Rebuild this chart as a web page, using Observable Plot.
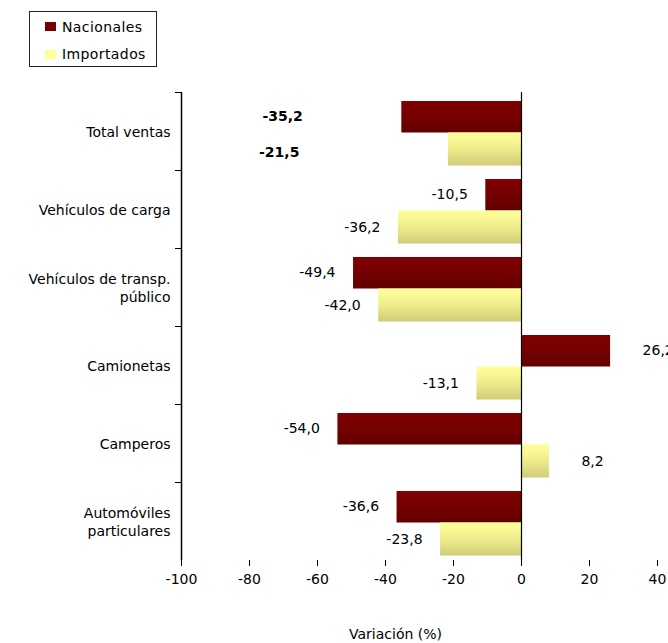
<!DOCTYPE html>
<html>
<head>
<meta charset="utf-8">
<script src="https://cdn.jsdelivr.net/npm/d3@7"></script>
<script src="https://cdn.jsdelivr.net/npm/@observablehq/plot@0.6"></script>
<style>
  html, body { margin: 0; padding: 0; background: #fff; overflow: hidden; }
  body { width: 668px; height: 643px; font-family: "DejaVu Sans", "Liberation Sans", Arial, sans-serif; }
  #legend { position: relative; height: 80px; }
  #legend .box { position: absolute; left: 29px; top: 11px; width: 126px; height: 54px; border: 1px solid #222; }
  #legend .item { position: absolute; left: 15px; font-size: 14px; color: #000; line-height: 16px; letter-spacing: 0.4px; }
  #legend .sw { position: absolute; left: 0; width: 11px; height: 9px; }
  #legend .lab { position: absolute; left: 17px; top: -2px; white-space: nowrap; }
  #chart svg { display: block; }
</style>
</head>
<body>
<div id="legend">
  <div class="box">
    <div class="item" style="top:9px"><div class="sw" style="top:1px;background:#7a0000"></div><span class="lab">Nacionales</span></div>
    <div class="item" style="top:36px"><div class="sw" style="top:2px;background:#ffff99"></div><span class="lab">Importados</span></div>
  </div>
</div>
<div id="chart"></div>
<script>
const categories = ["Total ventas", "Vehículos de carga", "Vehículos de transp.\npúblico", "Camionetas", "Camperos", "Automóviles\nparticulares"];
const nacionales = [-35.2, -10.5, -49.4, 26.2, -54.0, -36.6];
const importados = [-21.5, -36.2, -42.0, -13.1, 8.2, -23.8];
const xTicks = [-100, -80, -60, -40, -20, 0, 20, 40];
const xLabel = "Variación (%)";
const totalCategory = "Total ventas";

const nac = categories.map((c, i) => ({cat: c, value: nacionales[i]}));
const imp = categories.map((c, i) => ({cat: c, value: importados[i]}));
const fmt = v => v.toFixed(1).replace(".", ",");

const font = '"DejaVu Sans", "Liberation Sans", Arial, sans-serif';
const FS = 14;
const isTotal = d => d.cat === totalCategory;

const labelMarks = (data, dy) => [
  Plot.text(data, {filter: d => !isTotal(d) && d.value < 0, x: "value", y: "cat", text: d => fmt(d.value), textAnchor: "end", dx: -18, dy, fontSize: FS, fill: "#000"}),
  Plot.text(data, {filter: d => !isTotal(d) && d.value >= 0, x: "value", y: "cat", text: d => fmt(d.value), textAnchor: "start", dx: 32, dy, fontSize: FS, fill: "#000"})
];

const plot = Plot.plot({
  width: 668,
  height: 563,
  marginTop: 12,
  marginBottom: 83,
  marginLeft: 181,
  marginRight: 11,
  style: {fontFamily: font, fontSize: FS + "px", color: "#000", background: "#fff"},
  x: {domain: [-100, 40], ticks: xTicks, label: null},
  y: {domain: categories, padding: 0, label: null},
  marks: [
    Plot.barX(nac, {x: "value", y: "cat", fill: "url(#gradNac)", insetTop: 9, insetBottom: 37.5}),
    Plot.barX(imp, {x: "value", y: "cat", fill: "url(#gradImp)", insetTop: 40.5, insetBottom: 4.5}),
    Plot.ruleX([0], {stroke: "#000", strokeWidth: 1.2}),
    Plot.ruleX([-100], {stroke: "#000", strokeWidth: 1.5}),
    Plot.axisX({ticks: xTicks, tickSize: 6, tickPadding: 8, line: true, tickFormat: d => String(d), fontSize: FS, label: null, stroke: "#000"}),
    Plot.axisY({tickSize: 6, tickFormat: () => "", dy: -39, label: null, stroke: "#000"}),
    Plot.text(categories, {y: d => d, frameAnchor: "left", dx: -11, textAnchor: "end", lineAnchor: "middle", lineHeight: 1.3, fontSize: FS, fill: "#000", ariaLabel: "category labels"}),
    ...labelMarks(nac, -15),
    ...labelMarks(imp, 18),
    Plot.text(nac, {filter: isTotal, x: "value", y: "cat", text: d => fmt(d.value), textAnchor: "end", dx: -99, dy: -15, fontSize: FS, fontWeight: "bold", fill: "#000"}),
    Plot.text(imp, {filter: isTotal, x: "value", y: "cat", text: d => fmt(d.value), textAnchor: "end", dx: -149, dy: 21, fontSize: FS, fontWeight: "bold", fill: "#000"}),
    Plot.text([xLabel], {frameAnchor: "bottom", dx: -24, dy: 78, fontSize: FS, fill: "#000"})
  ]
});

// gradient definitions for the bars
const ns = "http://www.w3.org/2000/svg";
const defs = document.createElementNS(ns, "defs");
function grad(id, stops) {
  const g = document.createElementNS(ns, "linearGradient");
  g.setAttribute("id", id);
  g.setAttribute("x1", "0"); g.setAttribute("y1", "0");
  g.setAttribute("x2", "0"); g.setAttribute("y2", "1");
  stops.forEach(([o, c]) => {
    const s = document.createElementNS(ns, "stop");
    s.setAttribute("offset", o); s.setAttribute("stop-color", c);
    g.appendChild(s);
  });
  defs.appendChild(g);
}
grad("gradNac", [[0, "#800000"], [0.5, "#760000"], [1, "#620000"]]);
grad("gradImp", [[0, "#ffff99"], [0.3, "#f6f592"], [0.6, "#e8e688"], [1, "#cfcb78"]]);
plot.insertBefore(defs, plot.firstChild);

document.getElementById("chart").appendChild(plot);

// centre multi-line category labels on their own block, right-aligned as a block
plot.querySelectorAll('g[aria-label="category labels"] text').forEach(t => {
  const w = t.getBBox().width;
  t.setAttribute("text-anchor", "middle");
  t.querySelectorAll("tspan").forEach(ts => ts.setAttribute("x", -w / 2));
  if (!t.querySelector("tspan")) t.setAttribute("dx", -w / 2);
});
</script>
</body>
</html>
